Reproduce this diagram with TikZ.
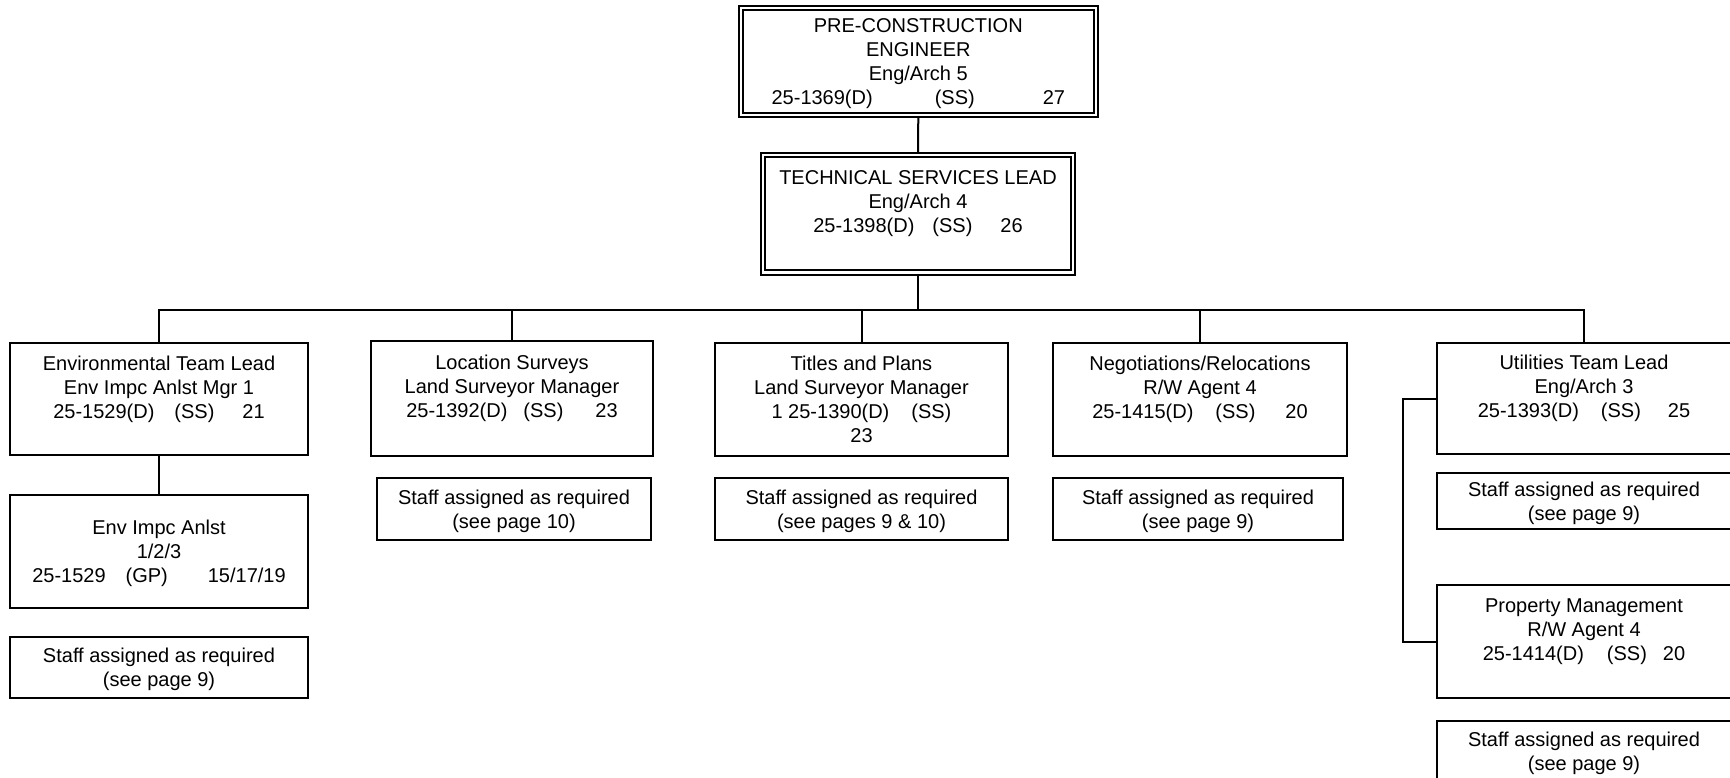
\documentclass[tikz,border=0pt]{standalone}
\usepackage{fontspec}
\setmainfont{Liberation Sans}
\newcommand\sst{\rule[-2.4pt]{0pt}{12pt}}
\begin{document}
\begin{tikzpicture}[x=0.5pt,y=-0.5pt,
  box/.style={draw, line width=1pt, inner sep=0pt, align=center,
    font=\fontsize{10}{12}\selectfont},
  dbox/.style={box, double, line width=1.1pt, double distance=1.1pt},
  sz/.style 2 args={minimum width={#1*0.5pt}, minimum height={#2*0.5pt}},
  conn/.style={line width=1pt}]
\useasboundingbox (0,0) rectangle (1730,777);
\clip (0,0) rectangle (1730,777);
% top levels
\node[dbox, sz={355}{107}] (pre) at (918.3,61.5)
  {\sst PRE-CONSTRUCTION\\ENGINEER\\Eng/Arch 5\\25-1369(D)\hspace{31pt}(SS)\hspace{34pt}27\sst};
\node[dbox, sz={310}{117.5}] (tech) at (918,213.75)
  {\sst TECHNICAL SERVICES LEAD\\Eng/Arch 4\\25-1398(D)\hspace{9pt}(SS)\hspace{14pt}26\\\sst};
% environmental
\node[box, sz={298}{112}] (envlead) at (159,399)
  {\sst Environmental Team Lead\\Env Impc Anlst Mgr 1\\25-1529(D)\hspace{10pt}(SS)\hspace{14pt}21\\\sst};
\node[box, sz={298}{113}] (envimpc) at (159,551.5)
  {\sst Env Impc Anlst\\1/2/3\\25-1529\hspace{10pt}(GP)\hspace{20pt}15/17/19\sst};
\node[box, sz={298}{61}] (envstaff) at (159,667.5)
  {\sst Staff assigned as required\\(see page 9)\sst};
% location surveys
\node[box, sz={282}{115}] (loc) at (512,398.5)
  {\sst Location Surveys\\Land Surveyor Manager\\25-1392(D)\hspace{8pt}(SS)\hspace{16pt}23\\\sst};
\node[box, sz={274}{62}] (locstaff) at (514,509)
  {\sst Staff assigned as required\\(see page 10)\sst};
% titles and plans
\node[box, sz={293}{113}] (titles) at (861.5,399.5)
  {\sst Titles and Plans\\Land Surveyor Manager\\1 25-1390(D)\hspace{11pt}(SS)\\23\sst};
\node[box, sz={293}{62}] (titlesstaff) at (861.5,509)
  {\sst Staff assigned as required\\(see pages 9 \& 10)\sst};
% negotiations
\node[box, sz={294}{113}] (neg) at (1200,399.5)
  {\sst Negotiations/Relocations\\R/W Agent 4\\25-1415(D)\hspace{11pt}(SS)\hspace{15pt}20\\\sst};
\node[box, sz={290}{62}] (negstaff) at (1198,509)
  {\sst Staff assigned as required\\(see page 9)\sst};
% utilities
\node[box, sz={294}{111}] (util) at (1584,398.5)
  {\sst Utilities Team Lead\\Eng/Arch 3\\25-1393(D)\hspace{11pt}(SS)\hspace{13.5pt}25\\\sst};
\node[box, sz={294}{56}] (utilstaff) at (1584,501)
  {\sst Staff assigned as required\\(see page 9)\sst};
\node[box, sz={294}{113}] (prop) at (1584,641.5)
  {\sst Property Management\\R/W Agent 4\\25-1414(D)\hspace{11.5pt}(SS)\hspace{8pt}20\\\sst};
\node[box, sz={294}{61}] (propstaff) at (1584,751.5)
  {\sst Staff assigned as required\\(see page 9)\sst};
% connectors
\coordinate (bus) at (918,310);
\coordinate (brk) at (1403,398.5);
\draw[conn] (pre.south) -- (tech.north);
\draw[conn] (tech.south) -- (bus);
\foreach \n in {envlead,loc,titles,neg,util} \draw[conn] (\n.north) |- (bus);
\draw[conn] (envlead.south) -- (envimpc.north);
\draw[conn] (util.west) -- (brk) |- (prop.west);
\end{tikzpicture}
\end{document}
